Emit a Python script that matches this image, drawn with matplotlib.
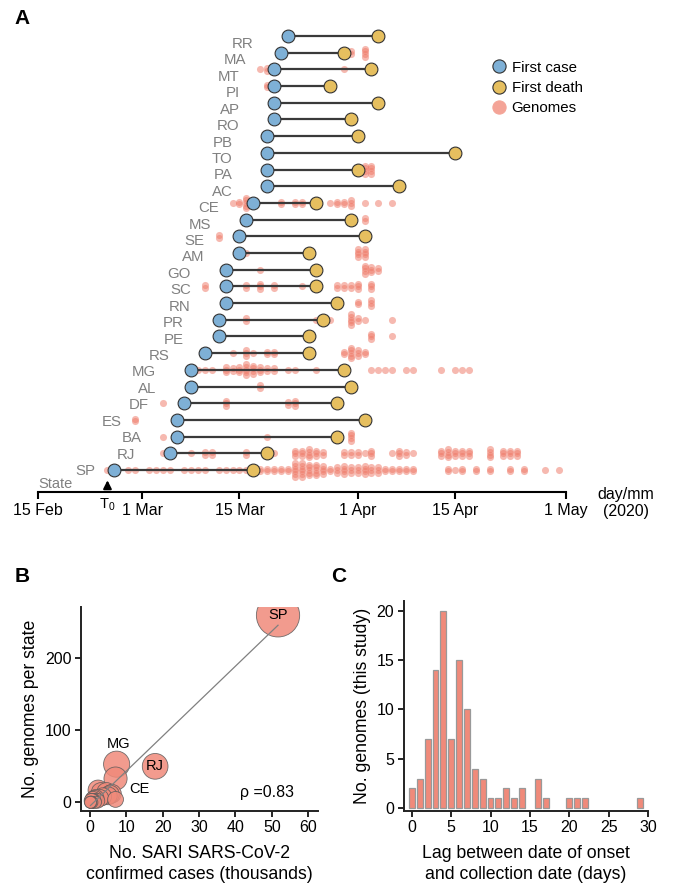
import numpy as np
import pandas as pd
import matplotlib
matplotlib.use("Agg")
import matplotlib.pyplot as plt
from matplotlib.lines import Line2D

plt.rcParams["font.family"] = ["Liberation Sans", "DejaVu Sans"]
plt.rcParams["mathtext.fontset"] = "custom"
plt.rcParams["mathtext.rm"] = "Liberation Sans"

BASE = pd.Timestamp("2020-02-15")

# ---- panel A data (states from bottom to top) ----
states = ["SP", "RJ", "BA", "ES", "DF", "AL", "MG", "RS", "PE", "PR", "RN", "SC", "GO", "AM",
          "SE", "MS", "CE", "AC", "PA", "TO", "PB", "RO", "AP", "PI", "MT", "MA", "RR"]
first_case = ["2020-02-26", "2020-03-05", "2020-03-06", "2020-03-06", "2020-03-07", "2020-03-08",
              "2020-03-08", "2020-03-10", "2020-03-12", "2020-03-12", "2020-03-13", "2020-03-13",
              "2020-03-13", "2020-03-15", "2020-03-15", "2020-03-16", "2020-03-17", "2020-03-19",
              "2020-03-19", "2020-03-19", "2020-03-19", "2020-03-20", "2020-03-20", "2020-03-20",
              "2020-03-20", "2020-03-21", "2020-03-22"]
first_death = ["2020-03-17", "2020-03-19", "2020-03-29", "2020-04-02", "2020-03-29", "2020-03-31",
               "2020-03-30", "2020-03-25", "2020-03-25", "2020-03-27", "2020-03-29", "2020-03-26",
               "2020-03-26", "2020-03-25", "2020-04-02", "2020-03-31", "2020-03-26", "2020-04-07",
               "2020-04-01", "2020-04-15", "2020-04-01", "2020-03-31", "2020-04-04", "2020-03-28",
               "2020-04-03", "2020-03-30", "2020-04-04"]

# genomes: (days since 15 Feb, number of genomes)
genomes = {
    "SP": [(10, 1), (13, 1), (14, 1), (16, 1), (17, 1), (18, 1), (19, 1), (21, 1), (22, 1), (23, 1),
           (24, 1), (26, 1), (27, 1), (28, 1), (29, 1), (30, 1), (31, 1), (32, 2), (33, 2), (34, 2),
           (35, 2), (36, 2), (37, 6), (38, 6), (39, 5), (40, 5), (41, 4), (42, 2), (43, 3), (44, 4),
           (45, 3), (46, 3), (47, 4), (48, 3), (49, 3), (50, 2), (51, 2), (52, 2), (53, 2), (54, 2),
           (59, 2), (60, 1), (61, 2), (63, 2), (65, 2), (68, 2), (70, 2), (73, 1), (75, 1)],
    "RJ": [(18, 1), (22, 1), (24, 2), (25, 2), (30, 2), (34, 1), (37, 3), (38, 3), (39, 4), (40, 3),
           (41, 2), (44, 2), (45, 2), (46, 2), (47, 1), (48, 3), (51, 1), (52, 3), (53, 2), (54, 1),
           (58, 3), (59, 4), (60, 3), (61, 3), (62, 3), (65, 4), (67, 3), (68, 3), (69, 3)],
    "BA": [(18, 1), (33, 1), (45, 4)],
    "ES": [(14, 2)],
    "DF": [(18, 1), (27, 3), (36, 2), (37, 3)],
    "AL": [(32, 2)],
    "MG": [(23, 1), (24, 1), (25, 1), (27, 3), (28, 2), (29, 3), (30, 5), (31, 4), (32, 3), (33, 2),
           (34, 2), (36, 1), (37, 1), (40, 1), (48, 1), (49, 1), (50, 1), (51, 1), (53, 1), (54, 1),
           (58, 1), (60, 1), (61, 1), (62, 1)],
    "RS": [(28, 1), (30, 3), (31, 1), (33, 2), (34, 2), (44, 2), (45, 5), (46, 3), (47, 2)],
    "PE": [(48, 3), (51, 1)],
    "PR": [(30, 2), (40, 1), (42, 1), (45, 5), (46, 2), (47, 1), (51, 1)],
    "RN": [(46, 2), (48, 3)],
    "SC": [(24, 2), (30, 2), (32, 3), (34, 2), (38, 1), (43, 2), (44, 2), (45, 2), (46, 3), (48, 3)],
    "GO": [(32, 1), (47, 4), (48, 3), (49, 2)],
    "AM": [(30, 1), (46, 4), (47, 4)],
    "SE": [(26, 2)],
    "MS": [(47, 2)],
    "CE": [(28, 1), (29, 2), (30, 5), (35, 2), (37, 2), (38, 2), (42, 1), (43, 2), (44, 2), (45, 3),
           (47, 1), (49, 1), (51, 1)],
    "PA": [(46, 3), (47, 4), (48, 4)],
    "PI": [(33, 2)],
    "MT": [(32, 1), (33, 2), (44, 1)],
    "MA": [(45, 2), (47, 4)],
}

tick_dates = ["2020-02-15", "2020-03-01", "2020-03-15", "2020-04-01", "2020-04-15", "2020-05-01"]
tick_labels = ["15 Feb", "1 Mar", "15 Mar", "1 Apr", "15 Apr", "1 May"]

# ---- panel B data ----
b_states = ["SP", "RJ", "MG", "CE", "RS", "SC", "PR", "PA", "AM", "GO", "DF", "PE", "BA", "MA",
            "RN", "MT", "ES", "AL", "SE", "MS", "PI", "PB", "AC", "AP", "RO", "TO", "RR"]
sari_k = [51.7, 17.9, 7.3, 7.0, 2.2, 3.0, 4.5, 5.5, 6.0, 3.5, 5.0, 7.0, 2.8, 1.5,
          1.2, 0.8, 2.0, 1.0, 0.5, 0.6, 0.4, 1.5, 0.2, 0.3, 0.5, 0.2, 0.1]
genomes_state = [260, 50, 53, 33, 17, 14, 14, 11, 12, 8, 9, 4, 6, 6,
                 5, 4, 2, 2, 2, 2, 2, 0, 0, 0, 0, 0, 0]
b_labels_inside = ["SP", "RJ"]

# ---- panel C data ----
lag_days = list(range(30))
lag_counts = [2, 3, 7, 14, 20, 7, 15, 10, 4, 3, 1, 1, 2, 1, 2, 0, 3, 1, 0, 0,
              1, 1, 1, 0, 0, 0, 0, 0, 0, 1]

BLUE = "#7eb0d6"
GOLD = "#e6bf5f"
SALMON = "#ef7a68"
GRAY = "#808080"

W, H = 675, 891
fig = plt.figure(figsize=(W / 100, H / 100), dpi=100)


def fx(px):
    return px / W


def fy(py):
    return 1 - py / H


# ================= panel A =================
axA = fig.add_axes([fx(38), fy(492), fx(566) - fx(38), fy(19.3) - fy(492)])
case_d = (pd.to_datetime(first_case) - BASE).days.values
death_d = (pd.to_datetime(first_death) - BASE).days.values
ticks = (pd.to_datetime(tick_dates) - BASE).days.values
rows = np.arange(len(states))

# genome dots, stacked vertically around the row
for i, st in enumerate(states):
    for d, n in genomes.get(st, []):
        offs = (np.arange(n) - (n - 1) / 2) * 0.16
        axA.scatter(np.full(n, d), i + offs, s=26, color=SALMON, alpha=0.52,
                    linewidths=0, zorder=1)

axA.hlines(rows, case_d, death_d, color="#3a3a3a", lw=1.6, zorder=2)
axA.scatter(case_d, rows, s=85, color=BLUE, edgecolor="#333333", linewidths=0.8, zorder=3)
axA.scatter(death_d, rows, s=85, color=GOLD, edgecolor="#333333", linewidths=0.8, zorder=3)

# state labels sit a bit left of the first event and drift slightly below the rows
label_nudge = {"SP": 2.2}
for i, st in enumerate(states):
    first_g = min([d for d, n in genomes.get(st, [])], default=999)
    lx = min(case_d[i] - 5, first_g - 2) + label_nudge.get(st, 0)
    ly = i - 0.06 - 0.0161 * i
    axA.text(lx, ly, st, ha="right", va="center", fontsize=10.8, color=GRAY)

axA.set_xlim(ticks[0], ticks[-1])
axA.set_ylim(-1.32, 27)
for s in ["left", "top", "right"]:
    axA.spines[s].set_visible(False)
axA.spines["bottom"].set_linewidth(1.5)
axA.set_yticks([])
axA.set_xticks(ticks)
axA.set_xticklabels(tick_labels, fontsize=11.5)
axA.tick_params(axis="x", length=5, width=1.5, pad=3)

axA.text(0, -0.85, "State", ha="left", va="center", fontsize=10.5, color=GRAY)
t0 = genomes["SP"][0][0]
axA.annotate("", xy=(t0, -0.45), xytext=(t0, -1.28),
             arrowprops=dict(arrowstyle="-|>", color="black", lw=1.5, mutation_scale=12))
axA.text(t0, -1.55, "T$_0$", ha="center", va="top", fontsize=10.5)
fig.text(fx(626), fy(503), "day/mm\n(2020)", ha="center", va="center", fontsize=11.5,
         linespacing=1.15)

handles = [Line2D([], [], marker="o", ls="", ms=9.5, mfc=BLUE, mec="#333333", mew=0.8),
           Line2D([], [], marker="o", ls="", ms=9.5, mfc=GOLD, mec="#333333", mew=0.8),
           Line2D([], [], marker="o", ls="", ms=9.5, mfc="#f4a497", mec="#f4a497", mew=0.8)]
fig.legend(handles, ["First case", "First death", "Genomes"], loc="upper left",
           bbox_to_anchor=(fx(484), fy(53)), frameon=False, fontsize=10.8,
           handlelength=1.0, handletextpad=0.35, labelspacing=0.42, borderpad=0)

# ================= panel B =================
axB = fig.add_axes([fx(81), fy(810.7), fx(318) - fx(81), fy(606.7) - fy(810.7)])
g = np.array(genomes_state, dtype=float)
x = np.array(sari_k)
r_px = 6 + 0.97 * np.sqrt(g)
sizes = (2 * r_px * 0.72) ** 2
order = np.argsort(-g)
axB.scatter(x[order], g[order], s=sizes[order], color="#f08a7a", edgecolor="#5a5a5a",
            linewidths=0.6, alpha=0.85, zorder=2)
slope, icpt = np.polyfit(x, g, 1)
xl = np.array([x.min(), x.max()])
axB.plot(xl, icpt + slope * xl, color="#808080", lw=0.9, zorder=3)
for st in b_labels_inside:
    k = b_states.index(st)
    axB.text(x[k], g[k], st, ha="center", va="center", fontsize=10.5, zorder=4)
k = b_states.index("MG")
axB.text(x[k] + 0.5, g[k] + 28, "MG", ha="center", va="center", fontsize=10.5)
k = b_states.index("CE")
axB.text(x[k] + 3.8, g[k] - 14, "CE", ha="left", va="center", fontsize=10.5)
axB.text(41.3, 14, "\u03c1 =0.83", ha="left", va="center", fontsize=11.5)
axB.set_xlim(-2.5, 62.7)
axB.set_ylim(-11.7, 272)
axB.set_xticks(range(0, 61, 10))
axB.set_yticks([0, 100, 200])
axB.set_xlabel("No. SARI SARS-CoV-2\nconfirmed cases (thousands)", fontsize=12.7, labelpad=7,
               linespacing=1.3)
axB.set_ylabel("No. genomes per state", fontsize=12.7, labelpad=4)

# ================= panel C =================
axC = fig.add_axes([fx(404), fy(810.7), fx(648.3) - fx(404), fy(600.7) - fy(810.7)])
lc = np.array(lag_counts)
ld = np.array(lag_days)
m = lc > 0
axC.bar(ld[m], lc[m], width=0.75, color="#f08a7a", edgecolor="#999999", linewidth=0.9)
axC.set_xlim(-1.0, 30.05)
axC.set_ylim(-0.25, 21)
axC.set_xticks(range(0, 31, 5))
axC.set_yticks(range(0, 21, 5))
axC.set_xlabel("Lag between date of onset\nand collection date (days)", fontsize=12.7, labelpad=7,
               linespacing=1.3)
axC.set_ylabel("No. genomes (this study)", fontsize=12.7, labelpad=4)

for ax in (axB, axC):
    for s in ["top", "right"]:
        ax.spines[s].set_visible(False)
    for s in ["left", "bottom"]:
        ax.spines[s].set_linewidth(1.4)
        ax.spines[s].set_color("#222222")
    ax.tick_params(length=4, width=1.2, labelsize=11.5, pad=3)

fig.text(fx(22), fy(18), "A", fontsize=15, fontweight="bold", ha="center", va="center")
fig.text(fx(22), fy(577), "B", fontsize=15, fontweight="bold", ha="center", va="center")
fig.text(fx(339), fy(577), "C", fontsize=15, fontweight="bold", ha="center", va="center")

fig.savefig("out.png", dpi=100)
